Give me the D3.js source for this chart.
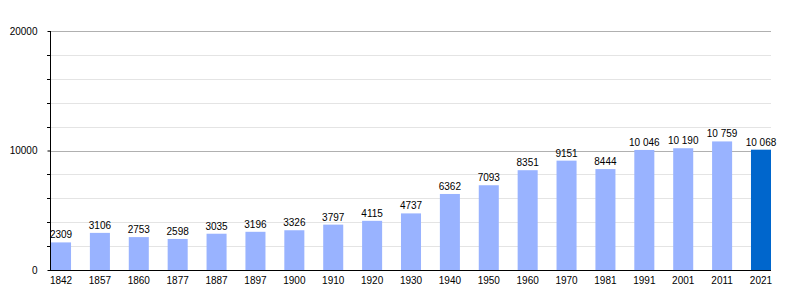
<!DOCTYPE html>
<html>
<head>
<meta charset="utf-8">
<script src="https://cdn.jsdelivr.net/npm/d3@7"></script>
<style>
  body { margin: 0; background: #fff; }
  text { font-family: "Liberation Sans", Arial, sans-serif; }
</style>
</head>
<body>
<div id="chart"></div>
<script>
// population by census year
var years = ["1842","1857","1860","1877","1887","1897","1900","1910","1920","1930","1940","1950","1960","1970","1981","1991","2001","2011","2021"]
var population = [2309,3106,2753,2598,3035,3196,3326,3797,4115,4737,6362,7093,8351,9151,8444,10046,10190,10759,10068]
var yTicks = [0, 10000, 20000]
var yMinor = [2000,4000,6000,8000,12000,14000,16000,18000]

var w = 800, h = 300
//note: "top" is taken by window.top, so plot edges get their own names
var plotL = 50, plotR = 771, plotT = 31, plotB = 270

var svg = d3.select("#chart").append("svg")
  .attr("width", w)
  .attr("height", h)

var x = d3.scaleBand()
  .domain(years)
  .range([plotL + 1, plotR])
  .paddingInner(0.485)
  .paddingOuter(0)

var y = d3.scaleLinear()
  .domain([0, 20000])
  .range([plotB, plotT])

// light grid lines
svg.selectAll(".grid-minor")
  .data(yMinor).enter()
  .append("line")
  .attr("x1", plotL).attr("x2", plotR)
  .attr("y1", function(d){ return Math.round(y(d)) + 0.5 })
  .attr("y2", function(d){ return Math.round(y(d)) + 0.5 })
  .style("stroke", "#e4e4e4")

// major grid lines
svg.selectAll(".grid-major")
  .data([10000, 20000]).enter()
  .append("line")
  .attr("x1", plotL).attr("x2", plotR)
  .attr("y1", function(d){ return Math.round(y(d)) + 0.5 })
  .attr("y2", function(d){ return Math.round(y(d)) + 0.5 })
  .style("stroke", "#b0b0b0")

// bars
svg.selectAll(".bar")
  .data(population).enter()
  .append("rect")
  .attr("x", function(d, i){ return x(years[i]) })
  .attr("width", x.bandwidth())
  .attr("y", function(d){ return y(d) })
  .attr("height", function(d){ return plotB - y(d) })
  .style("fill", function(d, i){ return i == years.length - 1 ? "#0066cc" : "#99b3ff" })

// value labels
var fmt = function(d){ return d >= 10000 ? d3.format(",")(d).replace(",", " ") : String(d) }
svg.selectAll(".val")
  .data(population).enter()
  .append("text")
  .attr("x", function(d, i){ return x(years[i]) + x.bandwidth()/2 })
  .attr("y", function(d){ return y(d) - 4 })
  .attr("text-anchor", "middle")
  .style("font-size", "10px")
  .style("fill", "#000")
  .text(fmt)

// axes
var yAxis = d3.axisLeft(y).tickValues(yTicks).tickSize(3).tickFormat(function(d){ return d })
var gy = svg.append("g")
  .attr("transform", "translate(" + (plotL + 0.5) + ",0)")
  .call(yAxis)
gy.select(".domain").attr("d", "M0," + plotT + "V" + (plotB + 0.5)).style("stroke", "#000")
gy.selectAll("text").style("font-size", "10px").attr("x", -13).style("font-family", "Liberation Sans, Arial, sans-serif")
gy.selectAll(".tick line").style("stroke", "#000")

svg.selectAll(".ytick-minor")
  .data(yMinor).enter()
  .append("line")
  .attr("x1", plotL - 3).attr("x2", plotL)
  .attr("y1", function(d){ return Math.round(y(d)) + 0.5 })
  .attr("y2", function(d){ return Math.round(y(d)) + 0.5 })
  .style("stroke", "#000")

var xAxis = d3.axisBottom(x).tickSize(0).tickPadding(6)
var gx = svg.append("g")
  .attr("transform", "translate(0," + (plotB + 0.5) + ")")
  .call(xAxis)
gx.select(".domain").attr("d", "M" + plotL + ",0H" + plotR).style("stroke", "#000")
gx.selectAll("text").style("font-size", "10px").style("font-family", "Liberation Sans, Arial, sans-serif")
</script>
</body>
</html>
